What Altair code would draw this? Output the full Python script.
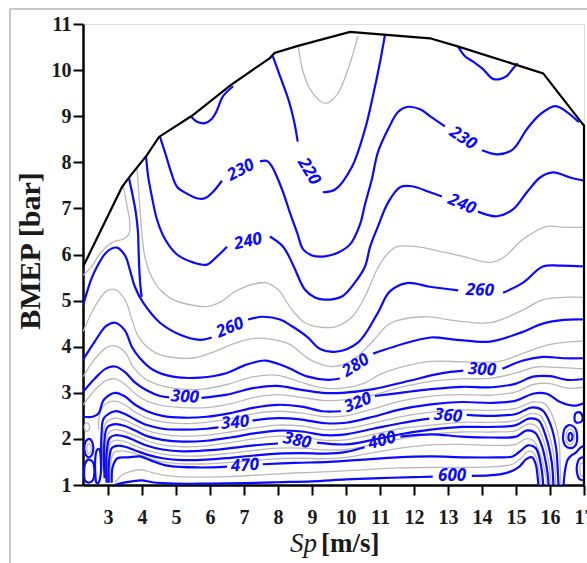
import altair as alt
import pandas as pd

BLUE = "#0a0aff"
GREY = "#b9b9b9"

# Axis ranges
X_MIN, X_MAX = 2.265, 17.0
Y_MIN, Y_MAX = 1.0, 11.0
X_TICKS = list(range(3, 18))
Y_TICKS = list(range(1, 12))

# Full-load (maximum BMEP) envelope
env_x = [2.27, 3.41, 3.65, 4.15, 4.5, 5.47, 6.6, 7.76, 7.9, 8.56, 10.12, 10.56, 12.47, 13.26, 15.8, 16.95, 17.0, 17.0]
env_y = [5.74, 7.46, 7.70, 8.16, 8.55, 9.01, 9.67, 10.26, 10.37, 10.52, 10.83, 10.8, 10.69, 10.52, 9.93, 8.84, 8.8, 1.0]

# BSFC iso-lines [g/kWh]; each entry is a list of segments (gaps leave room for labels)
loop_tl = [[(5.44, 9.0), (5.62, 8.88), (5.85, 8.85), (6.05, 8.94), (6.2, 9.12), (6.38, 9.43), (6.68, 9.65)]]
loop_tr = [[(13.29, 10.52), (13.5, 10.3), (13.75, 10.18), (14.03, 10.02), (14.3, 9.82), (14.5, 9.8), (14.72, 9.87),
            (14.92, 10.04), (15.05, 10.15)]]
c215 = [[(8.6, 10.5), (8.74, 9.96), (9.0, 9.52), (9.38, 9.28), (9.74, 9.47), (10.06, 10.02), (10.35, 10.74)]]
c220 = [
    [(7.85, 10.3), (8.03, 9.93), (8.32, 9.33), (8.47, 8.9), (8.58, 8.45)],
    [(9.32, 7.35), (9.68, 7.41), (10.18, 7.91), (10.56, 8.72), (10.79, 9.43), (11.0, 10.17), (11.15, 10.78)],
]
c230 = [
    [(4.53, 8.55), (4.7, 8.16), (4.85, 7.8), (5.03, 7.47), (5.32, 7.32), (5.62, 7.22), (5.85, 7.22), (6.09, 7.36), (6.35, 7.6)],
    [(7.47, 8.02), (7.68, 8.03), (7.82, 7.91), (8.12, 7.41), (8.35, 6.91), (8.56, 6.48), (8.74, 6.11), (9.0, 5.98),
     (9.38, 5.96), (9.76, 6.04), (10.12, 6.22), (10.41, 6.65), (10.56, 7.09), (10.76, 7.63), (10.94, 8.22),
     (11.24, 8.72), (11.53, 9.09), (11.79, 9.2), (12.18, 9.15), (12.47, 9.0), (12.91, 8.78)],
    [(14.0, 8.26), (14.47, 8.17), (14.91, 8.28), (15.32, 8.72), (15.71, 9.04), (16.15, 9.22), (16.5, 9.09), (16.85, 8.87)],
]
c240 = [
    [(4.12, 8.13), (4.18, 7.7), (4.29, 7.26), (4.44, 6.76), (4.68, 6.33), (5.03, 6.0), (5.5, 5.83), (5.91, 5.78), (6.21, 5.96), (6.5, 6.17)],
    [(7.76, 6.39), (8.15, 6.17), (8.44, 5.78), (8.79, 5.24), (9.1, 5.06), (9.38, 5.02), (9.88, 5.09), (10.26, 5.39),
     (10.56, 5.74), (10.71, 6.17), (10.94, 6.61), (11.24, 7.13), (11.59, 7.46), (11.94, 7.48), (12.47, 7.35), (12.82, 7.26)],
    [(13.88, 6.93), (14.44, 6.83), (14.91, 6.98), (15.32, 7.35), (15.71, 7.67), (16.09, 7.78), (16.59, 7.67), (17.0, 7.6)],
]
c245a = [[(3.45, 7.5), (3.55, 7.1), (3.64, 6.7), (3.62, 6.45), (3.45, 6.33), (3.25, 6.3), (3.0, 6.2), (2.75, 6.0),
          (2.5, 5.72), (2.27, 5.55)]]
c245b = [[(3.62, 7.65), (3.72, 7.3), (3.82, 6.9), (3.88, 6.5), (3.9, 6.1), (3.92, 5.7), (3.95, 5.35), (3.99, 5.08)]]
c250 = [[(3.85, 7.88), (3.9, 7.4), (3.95, 6.9), (4.0, 6.45), (4.07, 6.0), (4.2, 5.66), (4.35, 5.42), (4.53, 5.24), (4.91, 5.02),
         (5.41, 4.91), (5.91, 4.87), (6.29, 4.96), (6.68, 5.17), (7.03, 5.3), (7.62, 5.39), (8.0, 5.24), (8.41, 4.8),
         (8.79, 4.52), (9.18, 4.43), (9.68, 4.43), (10.18, 4.65), (10.56, 5.09), (10.91, 5.67), (11.2, 6.0), (11.5, 6.17),
         (12.09, 6.17), (12.76, 6.07), (13.44, 5.96), (14.24, 5.83), (14.62, 5.93), (15.21, 6.33), (15.91, 6.61),
         (16.38, 6.59), (17.0, 6.59)]]
c260 = [
    [(2.27, 4.9), (2.5, 5.45), (2.68, 5.74), (2.97, 6.06), (3.26, 6.15), (3.5, 5.98), (3.65, 5.65), (3.79, 5.3),
     (4.03, 4.96), (4.53, 4.52), (5.12, 4.26), (5.71, 4.15), (6.05, 4.2)],
    [(7.12, 4.59), (7.56, 4.65), (8.06, 4.59), (8.4, 4.45), (8.85, 4.22), (9.24, 3.95), (9.7, 3.89), (10.35, 4.09),
     (10.91, 4.7), (11.29, 5.2), (11.79, 5.38), (12.47, 5.3), (13.3, 5.22)],
    [(14.62, 5.17), (15.21, 5.39), (15.79, 5.74), (16.3, 5.76), (17.0, 5.74)],
]
c270 = [[(2.27, 4.33), (2.6, 4.85), (2.95, 5.2), (3.21, 5.24), (3.5, 5.02), (3.7, 4.6), (3.91, 4.2), (4.38, 3.87),
         (4.97, 3.76), (5.56, 3.76), (6.15, 3.9), (6.74, 4.08), (7.32, 4.18), (7.91, 4.15), (8.35, 4.05), (8.94, 3.72),
         (9.62, 3.57), (10.21, 3.72), (10.79, 4.12), (11.29, 4.5), (12.26, 4.65), (13.26, 4.56), (14.24, 4.52),
         (15.21, 4.8), (15.79, 5.02), (16.4, 5.07), (17.0, 5.07)]]
c280 = [
    [(2.27, 3.72), (2.6, 4.1), (2.95, 4.45), (3.21, 4.52), (3.5, 4.35), (3.7, 4.0), (3.94, 3.75), (4.32, 3.5),
     (4.91, 3.35), (5.71, 3.33), (6.5, 3.43), (7.03, 3.6), (7.62, 3.7), (8.21, 3.57), (8.88, 3.35), (9.47, 3.28), (9.82, 3.31)],
    [(10.8, 3.85), (11.82, 4.09), (12.5, 4.2), (13.26, 4.15), (14.24, 4.11), (15.12, 4.3), (15.79, 4.5), (16.4, 4.58), (17.0, 4.59)],
]
c290 = [[(2.27, 3.35), (2.6, 3.72), (2.95, 3.98), (3.21, 4.02), (3.5, 3.88), (3.75, 3.55), (4.1, 3.3), (4.6, 3.15),
         (5.2, 3.08), (5.8, 3.08), (6.5, 3.18), (7.3, 3.35), (8.0, 3.38), (8.6, 3.25), (9.2, 3.12), (9.9, 3.1),
         (10.5, 3.2), (11.0, 3.4), (11.6, 3.55), (12.5, 3.68), (13.5, 3.67), (14.5, 3.68), (15.3, 3.88), (16.0, 4.05), (17.0, 4.12)]]
c300 = [
    [(2.27, 3.02), (2.6, 3.3), (2.95, 3.53), (3.21, 3.57), (3.5, 3.45), (3.8, 3.22), (4.15, 3.05), (4.53, 2.93), (4.8, 2.9)],
    [(5.75, 2.89), (6.5, 2.96), (7.26, 3.1), (7.97, 3.15), (8.65, 3.07), (9.3, 3.0), (9.9, 3.0), (10.8, 3.08),
     (11.8, 3.25), (12.8, 3.42), (13.45, 3.48)],
    [(14.6, 3.52), (15.21, 3.7), (15.79, 3.78), (16.4, 3.75), (17.0, 3.75)],
]
c310 = [[(2.27, 2.74), (2.6, 3.05), (2.95, 3.27), (3.21, 3.3), (3.5, 3.18), (3.8, 2.98), (4.15, 2.82), (4.6, 2.72),
         (5.2, 2.68), (5.9, 2.68), (6.6, 2.76), (7.3, 2.9), (8.0, 2.96), (8.7, 2.9), (9.4, 2.83), (10.0, 2.85),
         (10.8, 2.95), (11.6, 3.12), (12.5, 3.25), (13.4, 3.3), (14.3, 3.32), (15.0, 3.43), (15.6, 3.56), (16.2, 3.55), (17.0, 3.52)]]
c320 = [
    [(2.27, 2.48), (2.55, 2.48), (2.72, 2.55), (2.88, 2.85), (3.21, 3.0), (3.5, 2.92), (3.8, 2.74), (4.15, 2.6),
     (4.6, 2.5), (5.2, 2.46), (5.9, 2.48), (6.6, 2.56), (7.3, 2.68), (8.0, 2.74), (8.7, 2.7), (9.3, 2.6), (9.85, 2.6)],
    [(10.85, 2.93), (11.6, 3.0), (12.5, 3.08), (13.4, 3.13), (14.3, 3.12), (15.0, 3.2), (15.5, 3.35), (16.0, 3.36), (16.5, 3.28), (17.0, 3.3)],
]
c330 = [[(2.72, 2.2), (2.76, 2.55), (2.92, 2.75), (3.21, 2.82), (3.5, 2.74), (3.8, 2.58), (4.15, 2.45), (4.6, 2.37),
         (5.2, 2.33), (5.9, 2.36), (6.6, 2.44), (7.3, 2.55), (8.0, 2.6), (8.7, 2.56), (9.4, 2.48), (10.0, 2.5),
         (10.8, 2.65), (11.6, 2.82), (12.5, 2.93), (13.4, 2.96), (14.3, 2.95), (15.0, 3.02), (15.5, 3.18), (16.0, 3.2), (16.5, 3.1), (17.0, 3.12)]]
c340 = [
    [(2.8, 1.5), (2.81, 2.1), (2.88, 2.45), (3.21, 2.6), (3.5, 2.54), (3.8, 2.42), (4.15, 2.3), (4.6, 2.22),
     (5.2, 2.2), (5.9, 2.22), (6.25, 2.25)],
    [(7.25, 2.4), (8.0, 2.45), (8.7, 2.42), (9.4, 2.34), (10.0, 2.35), (10.8, 2.48), (11.6, 2.64), (12.5, 2.75),
     (13.4, 2.8), (14.3, 2.78), (15.0, 2.83), (15.5, 2.98), (15.9, 2.98), (16.3, 2.8), (16.7, 2.72), (17.0, 2.78)],
]
c350 = [[(2.85, 1.3), (2.85, 2.0), (2.94, 2.35), (3.21, 2.45), (3.5, 2.4), (3.8, 2.3), (4.15, 2.18), (4.6, 2.1),
         (5.2, 2.06), (5.9, 2.08), (6.6, 2.15), (7.3, 2.24), (8.0, 2.3), (8.7, 2.28), (9.4, 2.2), (10.0, 2.22),
         (10.8, 2.34), (11.6, 2.48), (12.5, 2.58), (13.4, 2.63), (14.3, 2.62), (15.0, 2.66), (15.5, 2.8), (15.85, 2.76),
         (16.1, 2.45), (16.26, 2.0), (16.3, 1.4), (16.32, 1.0)]]
c360 = [
    [(2.9, 1.15), (2.89, 1.9), (2.98, 2.25), (3.21, 2.32), (3.5, 2.28), (3.8, 2.18), (4.15, 2.06), (4.6, 1.98),
     (5.2, 1.94), (5.9, 1.96), (6.6, 2.03), (7.3, 2.12), (8.0, 2.18), (8.7, 2.16), (9.4, 2.08), (10.0, 2.1),
     (10.8, 2.22), (11.6, 2.34), (12.45, 2.44)],
    [(13.55, 2.52), (14.3, 2.5), (15.0, 2.54), (15.45, 2.68), (15.78, 2.62), (16.02, 2.3), (16.18, 1.8), (16.23, 1.3), (16.25, 1.0)],
]
c370 = [[(2.93, 1.1), (2.93, 1.8), (3.02, 2.13), (3.21, 2.2), (3.5, 2.16), (3.8, 2.07), (4.15, 1.96), (4.6, 1.87),
         (5.2, 1.83), (5.9, 1.85), (6.6, 1.92), (7.3, 2.0), (8.0, 2.06), (8.7, 2.04), (9.4, 1.97), (10.0, 1.98),
         (10.8, 2.1), (11.6, 2.22), (12.5, 2.3), (13.4, 2.36), (14.3, 2.36), (15.0, 2.4), (15.42, 2.55), (15.72, 2.5),
         (15.95, 2.15), (16.12, 1.6), (16.17, 1.0)]]
c380 = [
    [(2.96, 1.05), (2.96, 1.7), (3.05, 2.02), (3.21, 2.08), (3.5, 2.05), (3.8, 1.96), (4.15, 1.85), (4.6, 1.77),
     (5.2, 1.73), (5.9, 1.75), (6.6, 1.8), (7.3, 1.86), (8.0, 1.9)],
    [(9.15, 1.92), (10.0, 1.88), (10.8, 1.98), (11.6, 2.1), (12.5, 2.2), (13.4, 2.26), (14.3, 2.26), (15.0, 2.3),
     (15.38, 2.44), (15.66, 2.4), (15.88, 2.05), (16.05, 1.5), (16.1, 1.0)],
]
c390 = [[(2.99, 1.05), (2.99, 1.6), (3.08, 1.92), (3.21, 1.97), (3.5, 1.94), (3.8, 1.85), (4.15, 1.75), (4.6, 1.67),
         (5.2, 1.63), (5.9, 1.64), (6.6, 1.69), (7.3, 1.75), (8.0, 1.8), (8.7, 1.8), (9.4, 1.76), (10.0, 1.77),
         (10.8, 1.88), (11.6, 2.0), (12.5, 2.1), (13.4, 2.15), (14.3, 2.15), (15.0, 2.18), (15.34, 2.32), (15.6, 2.28),
         (15.82, 1.95), (15.98, 1.4), (16.03, 1.0)]]
c400 = [
    [(3.02, 1.05), (3.03, 1.5), (3.11, 1.8), (3.25, 1.85), (3.5, 1.83), (3.8, 1.75), (4.15, 1.66), (4.6, 1.58),
     (5.2, 1.54), (5.9, 1.55), (6.6, 1.59), (7.3, 1.64), (8.0, 1.68), (8.7, 1.69), (9.4, 1.68), (10.0, 1.72), (10.55, 1.82)],
    [(11.6, 2.05), (12.5, 2.1), (13.4, 2.05), (14.3, 2.03), (15.0, 2.05), (15.3, 2.18), (15.55, 2.14), (15.76, 1.85),
     (15.92, 1.3), (15.96, 1.0)],
]
c430 = [[(3.06, 1.05), (3.08, 1.45), (3.17, 1.7), (3.4, 1.74), (3.8, 1.68), (4.15, 1.6), (4.6, 1.5), (5.2, 1.46),
         (5.9, 1.46), (6.6, 1.49), (7.3, 1.53), (8.0, 1.57), (8.7, 1.58), (9.4, 1.57), (10.0, 1.6), (10.8, 1.7),
         (11.6, 1.8), (12.5, 1.87), (13.4, 1.88), (14.3, 1.86), (15.0, 1.88), (15.28, 2.0), (15.5, 1.97),
         (15.7, 1.7), (15.86, 1.25), (15.9, 1.0)]]
c470 = [
    [(3.11, 1.05), (3.14, 1.4), (3.28, 1.58), (3.6, 1.6), (3.94, 1.62), (4.24, 1.54), (4.74, 1.42), (5.71, 1.38), (6.5, 1.4)],
    [(7.55, 1.45), (8.5, 1.48), (9.5, 1.5), (10.5, 1.55), (11.5, 1.6), (12.5, 1.62), (13.5, 1.6), (14.44, 1.6),
     (14.9, 1.62), (15.15, 1.75), (15.35, 1.86), (15.58, 1.8), (15.74, 1.4), (15.8, 1.0)],
]
c530 = [[(3.22, 1.05), (3.38, 1.2), (3.7, 1.3), (4.0, 1.33), (4.3, 1.27), (4.8, 1.2), (5.7, 1.17), (6.5, 1.18),
         (7.5, 1.22), (8.5, 1.26), (9.5, 1.29), (10.5, 1.33), (11.5, 1.37), (12.5, 1.38), (13.5, 1.38), (14.4, 1.4),
         (14.9, 1.45), (15.15, 1.58), (15.35, 1.73), (15.54, 1.68), (15.68, 1.3), (15.72, 1.0)]]
c600 = [
    [(3.2, 1.0), (3.4, 1.04), (3.7, 1.08), (4.0, 1.1), (4.3, 1.06), (5.0, 1.03), (6.0, 1.03), (7.0, 1.04),
     (8.0, 1.06), (9.0, 1.08), (10.0, 1.12), (11.0, 1.15), (12.0, 1.17), (12.55, 1.18)],
    [(13.7, 1.2), (14.4, 1.22), (14.8, 1.28), (15.1, 1.4), (15.3, 1.56), (15.47, 1.6), (15.58, 1.45), (15.64, 1.15), (15.66, 1.0)],
]

# closed islands in the low-load corners
isl_l1 = [[(2.3, 1.8), (2.35, 1.95), (2.45, 2.0), (2.55, 1.9), (2.55, 1.7), (2.45, 1.6), (2.35, 1.65), (2.3, 1.8)]]
isl_l2 = [[(2.37, 1.8), (2.42, 1.9), (2.49, 1.85), (2.49, 1.72), (2.42, 1.68), (2.37, 1.8)]]
isl_l3 = [[(2.3, 1.2), (2.32, 1.45), (2.42, 1.55), (2.55, 1.5), (2.6, 1.3), (2.55, 1.1), (2.42, 1.05), (2.32, 1.1), (2.3, 1.2)]]
isl_l4 = [[(2.64, 1.1), (2.62, 1.5), (2.67, 1.75), (2.74, 1.78), (2.79, 1.55), (2.78, 1.2), (2.72, 1.05), (2.66, 1.05), (2.64, 1.1)]]
isl_l5 = [[(2.3, 2.26), (2.34, 2.34), (2.42, 2.34), (2.46, 2.26), (2.42, 2.18), (2.34, 2.18), (2.3, 2.26)]]
isl_r1 = [[(16.38, 2.0), (16.43, 2.22), (16.56, 2.3), (16.72, 2.25), (16.8, 2.05), (16.74, 1.85), (16.6, 1.8), (16.45, 1.85), (16.38, 2.0)]]
isl_r2 = [[(16.47, 2.02), (16.51, 2.17), (16.6, 2.21), (16.7, 2.15), (16.72, 2.02), (16.66, 1.9), (16.55, 1.88), (16.49, 1.93), (16.47, 2.02)]]
isl_r3 = [[(16.54, 2.03), (16.57, 2.12), (16.63, 2.12), (16.66, 2.03), (16.61, 1.96), (16.56, 1.97), (16.54, 2.03)]]
isl_r4 = [[(16.72, 2.42), (16.75, 2.55), (16.86, 2.58), (16.95, 2.5), (16.93, 2.38), (16.83, 2.35), (16.75, 2.37), (16.72, 2.42)]]
isl_r5 = [[(17.0, 1.6), (16.88, 1.58), (16.8, 1.45), (16.8, 1.25), (16.88, 1.12), (17.0, 1.1)]]
isl_r6 = [[(17.0, 1.5), (16.9, 1.45), (16.88, 1.32), (16.92, 1.2), (17.0, 1.18)]]
isl_r7 = [[(16.4, 1.0), (16.44, 1.3), (16.52, 1.55), (16.64, 1.65), (16.76, 1.7), (16.88, 1.8), (17.0, 1.85)]]

BLUE_LINES = [loop_tl, loop_tr, c220, c230, c240, c245b, c260, c280, c300, c320, c340, c360, c380, c400, c470, c600,
              isl_l1, isl_l3, isl_l4, isl_r1, isl_r3, isl_r4, isl_r5, isl_r7]
GREY_LINES = [c215, c245a, c250, c270, c290, c310, c330, c350, c370, c390, c430, c530,
              isl_l2, isl_l5, isl_r2, isl_r6]

# Iso-line labels
lab_text = ["220", "230", "230", "240", "240", "260", "260", "280", "300", "300", "320", "340", "360", "380", "400", "470", "600"]
lab_x = [8.91, 6.91, 13.44, 7.12, 13.41, 6.59, 13.94, 10.29, 5.26, 14.0, 10.35, 6.74, 13.0, 8.56, 11.06, 7.03, 13.12]
lab_y = [7.8, 7.83, 8.52, 6.28, 7.09, 4.41, 5.22, 3.59, 2.91, 3.5, 2.78, 2.35, 2.5, 1.96, 1.96, 1.42, 1.2]
lab_ang = [59, -27, 33, -13, 23, -22, 2, -32, 3, 3, -22, -5, 5, 12, -15, -4, 0]


def to_rows(groups, kind):
    rows = []
    for gi, line in enumerate(groups):
        for si, seg in enumerate(line):
            for pi, (x, y) in enumerate(seg):
                rows.append({"seg": f"{kind}{gi}_{si}", "x": x, "y": y, "i": pi})
    return pd.DataFrame(rows)


blue_df = to_rows(BLUE_LINES, "b")
grey_df = to_rows(GREY_LINES, "g")
env_df = pd.DataFrame({"x": env_x, "y": env_y, "i": range(len(env_x))})
lab_df = pd.DataFrame({"t": lab_text, "x": lab_x, "y": lab_y,
                       "a": [a % 360 for a in lab_ang]})

xs = alt.Scale(domain=[X_MIN, X_MAX], nice=False, zero=False)
ys = alt.Scale(domain=[Y_MIN, Y_MAX], nice=False, zero=False)

axis_style = dict(title=None, grid=False, tickSize=10, tickWidth=2, tickColor="black",
                  domainColor="black", domainWidth=2.5, labelFont="Liberation Serif", labelFontWeight="bold",
                  labelFontSize=20, labelColor="#1a1a1a", labelFlush=False, labelOverlap=False)
x_axis = alt.Axis(values=X_TICKS, labelPadding=12, **axis_style)
y_axis = alt.Axis(values=Y_TICKS, labelPadding=2, **axis_style)

X = alt.X("x:Q", scale=xs, axis=x_axis)
Y = alt.Y("y:Q", scale=ys, axis=y_axis)

grey_layer = alt.Chart(grey_df).mark_line(color=GREY, strokeWidth=1.3, interpolate="catmull-rom", clip=True).encode(
    x=X, y=Y, detail="seg:N", order="i:Q")
blue_layer = alt.Chart(blue_df).mark_line(color=BLUE, strokeWidth=2.2, interpolate="catmull-rom", clip=True).encode(
    x=X, y=Y, detail="seg:N", order="i:Q")
env_layer = alt.Chart(env_df).mark_line(color="black", strokeWidth=2.2).encode(
    x=X, y=Y, order="i:Q")
labels = alt.Chart(lab_df).mark_text(font="Open Sans", fontStyle="italic", fontWeight="bold", fontSize=17,
                                     color=BLUE).encode(
    x=X, y=Y, text="t:N", angle=alt.Angle("a:Q", scale=None))

# Axis titles and outer frame
y_title = alt.Chart(pd.DataFrame({"t": ["BMEP [bar]"]})).mark_text(
    font="Liberation Serif", fontWeight="bold", fontSize=30, angle=270, color="#1a1a1a").encode(
    text="t:N", x=alt.value(-52), y=alt.value(227))
x_title_a = alt.Chart(pd.DataFrame({"t": ["Sp"]})).mark_text(
    font="Liberation Serif", fontStyle="italic", fontSize=27, align="right", color="#1a1a1a").encode(
    text="t:N", x=alt.value(234), y=alt.value(520))
x_title_b = alt.Chart(pd.DataFrame({"t": ["[m/s]"]})).mark_text(
    font="Liberation Serif", fontWeight="bold", fontSize=27, align="left", color="#1a1a1a").encode(
    text="t:N", x=alt.value(238), y=alt.value(520))
frame_top = alt.Chart(pd.DataFrame({"k": [0]})).mark_rule(color="#c8c8c8", strokeWidth=2).encode(
    x=alt.value(-73), x2=alt.value(510), y=alt.value(-15))
frame_left = alt.Chart(pd.DataFrame({"k": [0]})).mark_rule(color="#c8c8c8", strokeWidth=2).encode(
    x=alt.value(-73), y=alt.value(-15), y2=alt.value(545))

chart = alt.layer(grey_layer, blue_layer, labels, env_layer, y_title, x_title_a, x_title_b, frame_top, frame_left).properties(
    width=501, height=461,
    autosize=alt.AutoSizeParams(type="none"),
    padding={"left": 83, "top": 24, "right": 3, "bottom": 78},
).configure_view(stroke="#555555", strokeWidth=1.2).configure_axis(labelOverlap=False).configure(background="white")

chart.save("out.html", embed_options={"renderer": "svg", "actions": False})
